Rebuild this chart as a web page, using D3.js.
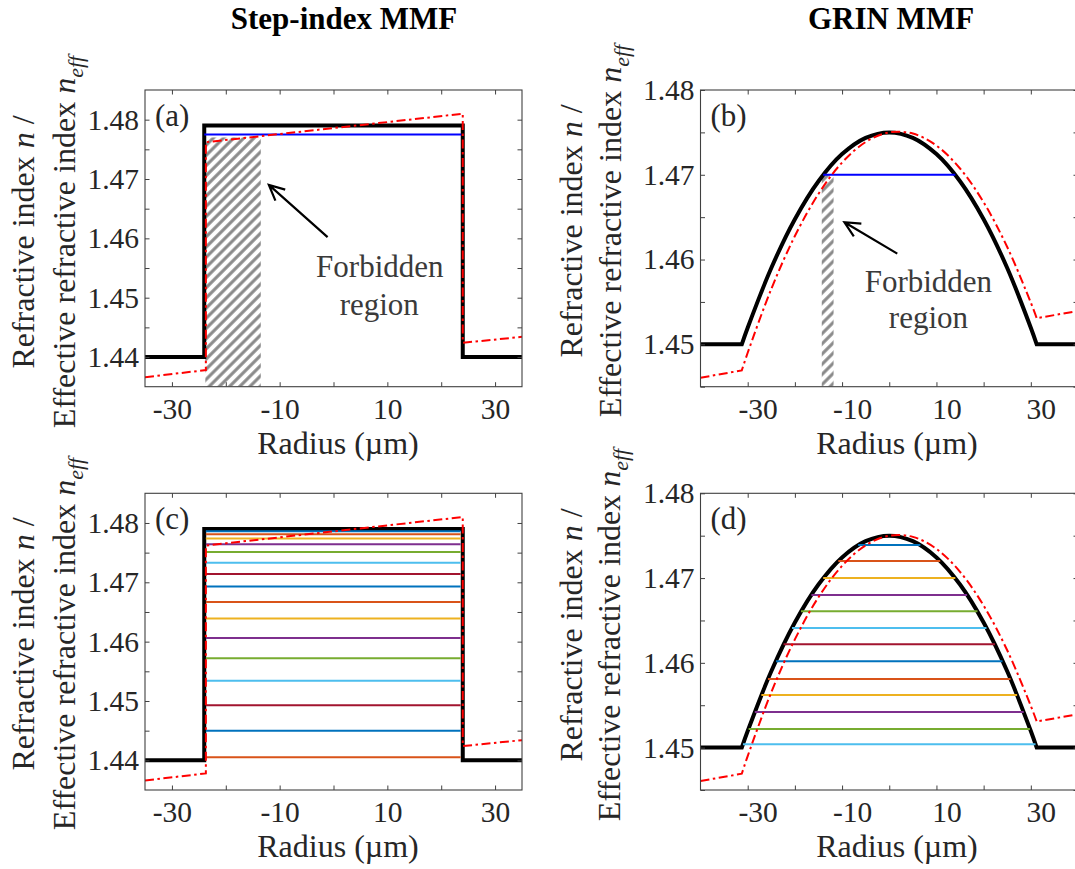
<!DOCTYPE html>
<html>
<head>
<meta charset="utf-8">
<script src="https://cdn.jsdelivr.net/npm/d3@7"></script>
<style>
  html, body { margin: 0; padding: 0; background: #fff; }
  svg { display: block; }
  svg text { font-family: "Liberation Serif", "Times New Roman", serif; }
</style>
</head>
<body>
<svg id="fig" width="1075" height="869"></svg>
<script>
// ---------------- data ----------------
const radiusTicks = [-30, -20, -10, 0, 10, 20, 30];
const radiusTickLabels = [-30, -10, 10, 30];
const stepIndexTicks = [1.44, 1.445, 1.45, 1.455, 1.46, 1.465, 1.47, 1.475, 1.48];
const stepIndexTickLabels = [1.44, 1.45, 1.46, 1.47, 1.48];
const grinIndexTicks = [1.445, 1.45, 1.455, 1.46, 1.465, 1.47, 1.475, 1.48];
const grinIndexTickLabels = [1.45, 1.46, 1.47, 1.48];

// step-index fibre: straight profile and bend-equivalent (tilted) profile
const stepRadius = [-35, -24, -24, 24, 24, 35];
const stepIndex = [1.44, 1.44, 1.479, 1.479, 1.44, 1.44];
const stepBentRadius = [-35, -23.7, -23.7, 24, 24, 35];
const stepBentIndex = [1.4366, 1.4378, 1.4762, 1.4810, 1.4424, 1.4434];

// step-index guided modes
const stepFundamentalNeff = 1.4775;
const stepFundamentalSpan = [-24, 23.7];
const stepModeNeff = [1.4786, 1.4781, 1.4774, 1.4764, 1.4751, 1.4733, 1.4714, 1.4693,
                      1.4667, 1.4639, 1.4606, 1.4572, 1.4534, 1.4493, 1.4450, 1.4405];
const stepModeSpan = [-23.7, 23.6];
const stepForbiddenRadius = [-23.8, -13.5];
const stepForbiddenIndex = [1.435, 1.477];

// graded-index fibre: straight profile and bend-equivalent profile
const grinRadius = [-40, -31.25, -30, -25, -20, -15, -10, -5, 0, 5, 10, 15, 20, 25, 30, 31.25, 40];
const grinIndex = [1.45, 1.45, 1.45196, 1.459, 1.46476, 1.46924, 1.47244, 1.47436, 1.475,
                   1.47436, 1.47244, 1.46924, 1.46476, 1.459, 1.45196, 1.45, 1.45];
const grinBentIndex = [1.44606, 1.44692, 1.44900, 1.45652, 1.46277, 1.46774, 1.47144, 1.47386, 1.475,
                       1.47486, 1.47344, 1.47074, 1.46675, 1.46148, 1.45492, 1.45308, 1.45394];

// graded-index guided modes (neff and half-width of the core region they span)
const grinFundamentalNeff = 1.47;
const grinFundamentalSpan = [-14, 14];
const grinModeNeff = [1.4739, 1.4720, 1.4700, 1.4680, 1.4661, 1.4641, 1.4622,
                      1.4602, 1.4581, 1.4562, 1.4542, 1.4522, 1.4504];
const grinModeHalfWidth = [6.6, 10.8, 14.0, 16.5, 18.7, 20.6, 22.4, 24.0, 25.7, 27.1, 28.5, 29.8, 31.0];
const grinForbiddenRadius = [-14.3, -11.8];
const grinForbiddenIndex = [1.445, 1.47];

const modeColors = ['#0072BD', '#D95319', '#EDB120', '#7E2F8E', '#77AC30', '#4DBEEE', '#A2142F'];

// ---------------- drawing ----------------
const svg = d3.select('#fig');
const defs = svg.append('defs');

const hatch = defs.append('pattern')
  .attr('id', 'hatch')
  .attr('patternUnits', 'userSpaceOnUse')
  .attr('width', 7.2).attr('height', 20)
  .attr('patternTransform', 'rotate(45)');
hatch.append('line')
  .attr('x1', 3.6).attr('y1', 0).attr('x2', 3.6).attr('y2', 20)
  .attr('stroke', '#8a8a8a').attr('stroke-width', 3.1);

const BLACK_W = 4, RED_W = 2, RED_DASH = '9,3.5,2.5,3.5';
const TEXT_COL = '#262626';

function linePath(x, y, r, n) {
  return d3.line().x(d => x(d[0])).y(d => y(d[1]))(d3.zip(r, n));
}

// flat cladding on both sides, smooth core in between
function grinPath(x, y, r, n) {
  const last = r.length - 1;
  const core = d3.line().x(d => x(d[0])).y(d => y(d[1]))
    .curve(d3.curveCatmullRom.alpha(0.5))(d3.zip(r.slice(1, last), n.slice(1, last)));
  return `M${x(r[0])},${y(n[0])}L${core.slice(1)}L${x(r[last])},${y(n[last])}`;
}

function arrow(g, x, y, tail, tip) {
  const x0 = x(tail[0]), y0 = y(tail[1]), x1 = x(tip[0]), y1 = y(tip[1]);
  const a = Math.atan2(y0 - y1, x0 - x1), L = 17, h = 0.45;
  const w1 = [x1 + L * Math.cos(a + h), y1 + L * Math.sin(a + h)];
  const w2 = [x1 + L * Math.cos(a - h), y1 + L * Math.sin(a - h)];
  g.append('path')
    .attr('d', `M${x0},${y0}L${x1},${y1}M${w1[0]},${w1[1]}L${x1},${y1}L${w2[0]},${w2[1]}`)
    .attr('fill', 'none').attr('stroke', '#000').attr('stroke-width', 2.2);
}

function annotation(g, x, y, pos1, pos2) {
  const t = g.append('g').attr('fill', '#3a3a3a').attr('font-size', 31).attr('text-anchor', 'middle');
  t.append('text').attr('x', x(pos1[0])).attr('y', y(pos1[1])).text('Forbidden');
  t.append('text').attr('x', x(pos2[0])).attr('y', y(pos2[1])).text('region');
}

function hatchRect(g, x, y, r, n) {
  g.append('rect')
    .attr('x', x(r[0])).attr('width', x(r[1]) - x(r[0]))
    .attr('y', y(n[1])).attr('height', y(n[0]) - y(n[1]))
    .attr('fill', 'url(#hatch)');
}

function hLine(g, x, y, n, r0, r1, color) {
  g.append('line')
    .attr('x1', x(r0)).attr('x2', x(r1)).attr('y1', y(n)).attr('y2', y(n))
    .attr('stroke', color).attr('stroke-width', 2);
}

const isIn = (list, d) => list.some(v => Math.abs(v - d) < 1e-9);

function drawPanel(p) {
  const x = d3.scaleLinear().domain(p.xDomain).range([p.x0, p.x1]);
  const y = d3.scaleLinear().domain(p.yDomain).range([p.y1, p.y0]);
  const g = svg.append('g');

  defs.append('clipPath').attr('id', 'clip-' + p.id)
    .append('rect').attr('x', p.x0).attr('y', p.y0)
    .attr('width', p.x1 - p.x0).attr('height', p.y1 - p.y0);
  const plot = g.append('g').attr('clip-path', `url(#clip-${p.id})`);
  p.draw(plot, x, y);

  // axes: inward ticks on all four sides
  const styleAxis = sel => {
    sel.select('.domain').remove();
    sel.attr('font-family', null).attr('font-size', 29.5);
    sel.selectAll('.tick line').attr('stroke', '#404040').attr('stroke-width', 1);
    sel.selectAll('.tick text').attr('fill', TEXT_COL);
    sel.selectAll('.tick text').filter(function () { return this.textContent === ''; }).remove();
  };
  g.append('g').attr('transform', `translate(0,${p.y1})`)
    .call(d3.axisBottom(x).tickValues(radiusTicks).tickSizeInner(-4.5).tickSizeOuter(0)
      .tickPadding(11.5).tickFormat(d => isIn(radiusTickLabels, d) ? String(d) : ''))
    .call(styleAxis)
    .call(s => s.selectAll('.tick text').attr('x', p.labelShift));
  g.append('g').attr('transform', `translate(0,${p.y0})`)
    .call(d3.axisTop(x).tickValues(radiusTicks).tickSizeInner(-4.5).tickSizeOuter(0).tickFormat(''))
    .call(styleAxis);
  g.append('g').attr('transform', `translate(${p.x0},0)`)
    .call(d3.axisLeft(y).tickValues(p.yTicks).tickSizeInner(-4.5).tickSizeOuter(0)
      .tickPadding(6).tickFormat(d => isIn(p.yTickLabels, d) ? d3.format('.2f')(d) : ''))
    .call(styleAxis);
  g.append('g').attr('transform', `translate(${p.x1},0)`)
    .call(d3.axisRight(y).tickValues(p.yTicks).tickSizeInner(-4.5).tickSizeOuter(0).tickFormat(''))
    .call(styleAxis);

  g.append('rect').attr('x', p.x0).attr('y', p.y0)
    .attr('width', p.x1 - p.x0).attr('height', p.y1 - p.y0)
    .attr('fill', 'none').attr('stroke', '#404040').attr('stroke-width', 1.1);

  // panel letter
  g.append('text').attr('x', p.x0 + 10).attr('y', p.y0 + 36)
    .attr('font-size', 31).attr('fill', TEXT_COL).text(p.letter);

  // axis labels
  g.append('text').attr('x', p.xLabelX).attr('y', p.y1 + 67)
    .attr('text-anchor', 'middle').attr('font-size', 32).attr('fill', TEXT_COL)
    .text('Radius (\u00b5m)');

  const l1 = g.append('text')
    .attr('transform', `translate(${p.yLabelX[0]},${p.yLabelY}) rotate(-90)`)
    .attr('text-anchor', 'middle').attr('font-size', 32).attr('fill', TEXT_COL);
  l1.append('tspan').text('Refractive index ');
  l1.append('tspan').attr('font-style', 'italic').text('n');
  l1.append('tspan').text(' /');

  const l2 = g.append('text')
    .attr('transform', `translate(${p.yLabelX[1]},${p.yLabelY}) rotate(-90)`)
    .attr('text-anchor', 'middle').attr('font-size', 32).attr('fill', TEXT_COL);
  l2.append('tspan').text('Effective refractive index ');
  l2.append('tspan').attr('font-style', 'italic').text('n');
  l2.append('tspan').attr('font-style', 'italic').attr('font-size', 22).attr('dy', 8).text('eff');
}

const LEFT = [145, 522], RIGHT = [700.5, 1078];
const TOP = [90, 386.7], BOTTOM = [493.3, 790];

const stepBase = (plot, x, y) => ({
  black: () => plot.append('path').attr('d', linePath(x, y, stepRadius, stepIndex))
    .attr('fill', 'none').attr('stroke', '#000').attr('stroke-width', BLACK_W).attr('stroke-linejoin', 'miter'),
  red: () => plot.append('path').attr('d', linePath(x, y, stepBentRadius, stepBentIndex))
    .attr('fill', 'none').attr('stroke', '#ff0000').attr('stroke-width', RED_W)
    .attr('stroke-dasharray', RED_DASH)
});

const grinBase = (plot, x, y) => ({
  black: () => plot.append('path').attr('d', grinPath(x, y, grinRadius, grinIndex))
    .attr('fill', 'none').attr('stroke', '#000').attr('stroke-width', BLACK_W).attr('stroke-linejoin', 'miter'),
  red: () => plot.append('path').attr('d', grinPath(x, y, grinRadius, grinBentIndex))
    .attr('fill', 'none').attr('stroke', '#ff0000').attr('stroke-width', RED_W)
    .attr('stroke-dasharray', RED_DASH)
});

// (a) step-index, fundamental mode
drawPanel({
  id: 'a', letter: '(a)', x0: LEFT[0], x1: LEFT[1], y0: TOP[0], y1: TOP[1],
  xDomain: [-35, 35], yDomain: [1.435, 1.485],
  yTicks: stepIndexTicks, yTickLabels: stepIndexTickLabels,
  labelShift: 0, xLabelX: 338, yLabelX: [33.5, 75], yLabelY: 242,
  draw: (plot, x, y) => {
    const b = stepBase(plot, x, y);
    hatchRect(plot, x, y, stepForbiddenRadius, stepForbiddenIndex);
    b.black();
    hLine(plot, x, y, stepFundamentalNeff, stepFundamentalSpan[0], stepFundamentalSpan[1], '#0000ff');
    b.red();
    arrow(plot, x, y, [-1.1, 1.4602], [-12, 1.4690]);
    annotation(plot, x, y, [8.6, 1.4535], [8.5, 1.4471]);
  }
});

// (b) graded-index, fundamental mode
drawPanel({
  id: 'b', letter: '(b)', x0: RIGHT[0], x1: RIGHT[1], y0: TOP[0], y1: TOP[1],
  xDomain: [-40, 40], yDomain: [1.445, 1.48],
  yTicks: grinIndexTicks, yTickLabels: grinIndexTickLabels,
  labelShift: 10, xLabelX: 897, yLabelX: [582, 621], yLabelY: 231,
  draw: (plot, x, y) => {
    const b = grinBase(plot, x, y);
    hatchRect(plot, x, y, grinForbiddenRadius, grinForbiddenIndex);
    b.black();
    hLine(plot, x, y, grinFundamentalNeff, grinFundamentalSpan[0], grinFundamentalSpan[1], '#0000ff');
    b.red();
    arrow(plot, x, y, [1.7, 1.4607], [-9.5, 1.4644]);
    annotation(plot, x, y, [8.3, 1.4562], [8.3, 1.4519]);
  }
});

// (c) step-index, all guided modes
drawPanel({
  id: 'c', letter: '(c)', x0: LEFT[0], x1: LEFT[1], y0: BOTTOM[0], y1: BOTTOM[1],
  xDomain: [-35, 35], yDomain: [1.435, 1.485],
  yTicks: stepIndexTicks, yTickLabels: stepIndexTickLabels,
  labelShift: 0, xLabelX: 338, yLabelX: [33.5, 75], yLabelY: 644,
  draw: (plot, x, y) => {
    const b = stepBase(plot, x, y);
    b.black();
    stepModeNeff.forEach((n, i) =>
      hLine(plot, x, y, n, stepModeSpan[0], stepModeSpan[1], modeColors[i % modeColors.length]));
    b.red();
  }
});

// (d) graded-index, all guided mode groups
drawPanel({
  id: 'd', letter: '(d)', x0: RIGHT[0], x1: RIGHT[1], y0: BOTTOM[0], y1: BOTTOM[1],
  xDomain: [-40, 40], yDomain: [1.445, 1.48],
  yTicks: grinIndexTicks, yTickLabels: grinIndexTickLabels,
  labelShift: 10, xLabelX: 897, yLabelX: [582, 620], yLabelY: 635,
  draw: (plot, x, y) => {
    const b = grinBase(plot, x, y);
    b.black();
    grinModeNeff.forEach((n, i) =>
      hLine(plot, x, y, n, -grinModeHalfWidth[i], grinModeHalfWidth[i], modeColors[i % modeColors.length]));
    b.red();
  }
});

// column titles
svg.append('text').attr('x', 344).attr('y', 29).attr('text-anchor', 'middle')
  .attr('font-size', 31).attr('font-weight', 'bold').attr('fill', '#000').text('Step-index MMF');
svg.append('text').attr('x', 891).attr('y', 29).attr('text-anchor', 'middle')
  .attr('font-size', 31).attr('font-weight', 'bold').attr('fill', '#000').text('GRIN MMF');
</script>
</body>
</html>
